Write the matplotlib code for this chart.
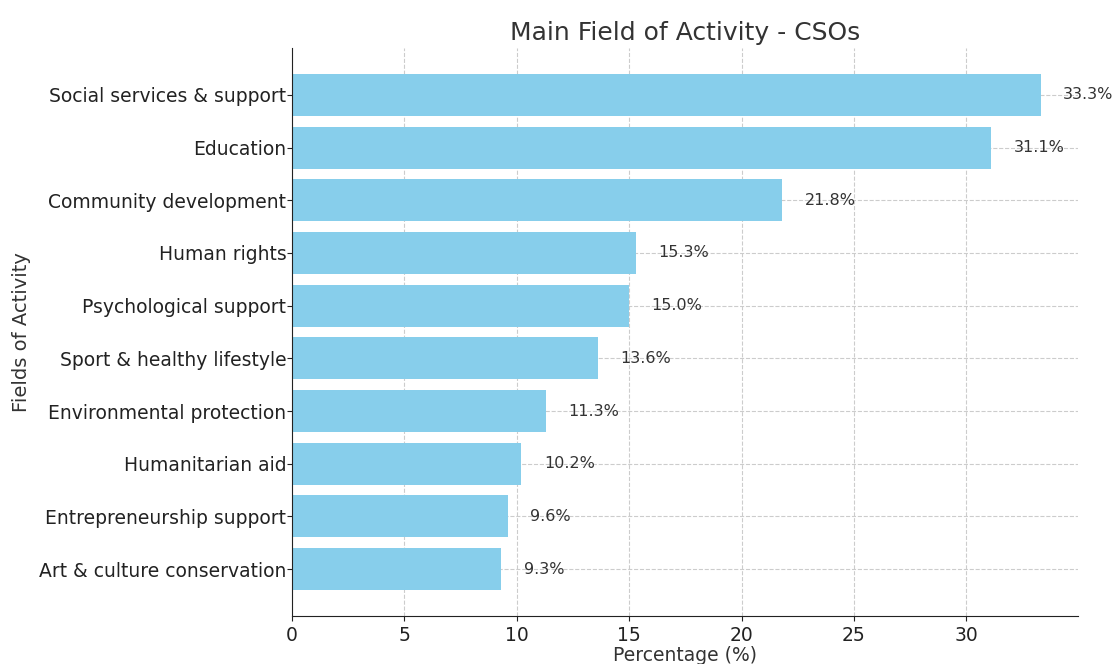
import matplotlib
matplotlib.use("Agg")
import matplotlib.pyplot as plt

fields = [
    "Social services & support",
    "Education",
    "Community development",
    "Human rights",
    "Psychological support",
    "Sport & healthy lifestyle",
    "Environmental protection",
    "Humanitarian aid",
    "Entrepreneurship support",
    "Art & culture conservation",
]
percentages = [33.3, 31.1, 21.8, 15.3, 15.0, 13.6, 11.3, 10.2, 9.6, 9.3]

text_color = "#333333"

fig = plt.figure(figsize=(11.15, 6.64), dpi=100)
ax = fig.add_axes([0.2619, 0.0723, 0.7049, 0.8554])

ax.barh(fields[::-1], percentages[::-1], color="skyblue", height=0.8, zorder=2)

for name, val in zip(fields, percentages):
    ax.text(val + 1, name, f"{val:.1f}%", va="center", ha="left",
            fontsize=11.5, color=text_color, zorder=3)

ax.grid(True, linestyle="--", color="#cccccc", linewidth=0.8, zorder=0)
ax.set_axisbelow(True)
for side in ("top", "right"):
    ax.spines[side].set_visible(False)
for side in ("left", "bottom"):
    ax.spines[side].set_color("#222222")

ax.tick_params(axis="both", labelsize=13.5, colors="#222222")
ax.tick_params(axis="y", pad=0.5)
ax.set_title("Main Field of Activity - CSOs", fontsize=18, color=text_color)
ax.set_xlabel("Percentage (%)", fontsize=13.5, color=text_color)
ax.set_ylabel("Fields of Activity", fontsize=14, color=text_color)
ax.yaxis.set_label_coords(-0.332, 0.5)
ax.xaxis.set_label_coords(0.5, -0.053)

fig.savefig("out.png", dpi=100)
